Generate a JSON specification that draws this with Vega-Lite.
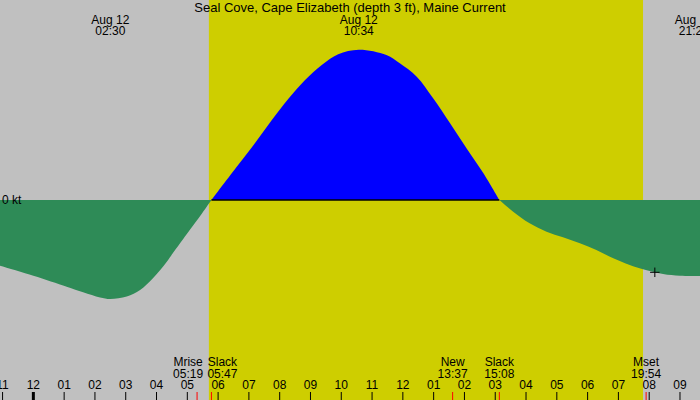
{
  "$schema": "https://vega.github.io/schema/vega-lite/v6.json",
  "description": "Seal Cove, Cape Elizabeth tidal current prediction for Aug 12.",
  "width": 700,
  "height": 400,
  "autosize": {"type": "none"},
  "padding": 0,
  "background": "#c0c0c0",
  "datasets": {
    "curve": [
      {"t": "2026-08-11T22:50", "v": -0.65, "seg": "e1", "dir": "ebb"},
      {"t": "2026-08-12T00:00", "v": -0.757, "seg": "e1", "dir": "ebb"},
      {"t": "2026-08-12T01:05", "v": -0.867, "seg": "e1", "dir": "ebb"},
      {"t": "2026-08-12T01:37", "v": -0.923, "seg": "e1", "dir": "ebb"},
      {"t": "2026-08-12T02:10", "v": -0.975, "seg": "e1", "dir": "ebb"},
      {"t": "2026-08-12T02:30", "v": -0.99, "seg": "e1", "dir": "ebb"},
      {"t": "2026-08-12T03:02", "v": -0.965, "seg": "e1", "dir": "ebb"},
      {"t": "2026-08-12T03:28", "v": -0.9, "seg": "e1", "dir": "ebb"},
      {"t": "2026-08-12T03:53", "v": -0.783, "seg": "e1", "dir": "ebb"},
      {"t": "2026-08-12T04:20", "v": -0.617, "seg": "e1", "dir": "ebb"},
      {"t": "2026-08-12T04:32", "v": -0.53, "seg": "e1", "dir": "ebb"},
      {"t": "2026-08-12T04:52", "v": -0.39, "seg": "e1", "dir": "ebb"},
      {"t": "2026-08-12T05:25", "v": -0.16, "seg": "e1", "dir": "ebb"},
      {"t": "2026-08-12T05:47", "v": 0, "seg": "e1", "dir": "ebb"},
      {"t": "2026-08-12T05:47", "v": 0, "seg": "f1", "dir": "flood"},
      {"t": "2026-08-12T06:39", "v": 0.35, "seg": "f1", "dir": "flood"},
      {"t": "2026-08-12T07:12", "v": 0.57, "seg": "f1", "dir": "flood"},
      {"t": "2026-08-12T07:44", "v": 0.795, "seg": "f1", "dir": "flood"},
      {"t": "2026-08-12T08:17", "v": 1.012, "seg": "f1", "dir": "flood"},
      {"t": "2026-08-12T08:49", "v": 1.197, "seg": "f1", "dir": "flood"},
      {"t": "2026-08-12T09:22", "v": 1.35, "seg": "f1", "dir": "flood"},
      {"t": "2026-08-12T09:54", "v": 1.457, "seg": "f1", "dir": "flood"},
      {"t": "2026-08-12T10:34", "v": 1.503, "seg": "f1", "dir": "flood"},
      {"t": "2026-08-12T11:28", "v": 1.45, "seg": "f1", "dir": "flood"},
      {"t": "2026-08-12T11:54", "v": 1.367, "seg": "f1", "dir": "flood"},
      {"t": "2026-08-12T12:27", "v": 1.233, "seg": "f1", "dir": "flood"},
      {"t": "2026-08-12T12:59", "v": 1.017, "seg": "f1", "dir": "flood"},
      {"t": "2026-08-12T13:32", "v": 0.767, "seg": "f1", "dir": "flood"},
      {"t": "2026-08-12T14:04", "v": 0.517, "seg": "f1", "dir": "flood"},
      {"t": "2026-08-12T14:37", "v": 0.267, "seg": "f1", "dir": "flood"},
      {"t": "2026-08-12T15:08", "v": 0, "seg": "f1", "dir": "flood"},
      {"t": "2026-08-12T15:08", "v": 0, "seg": "e2", "dir": "ebb"},
      {"t": "2026-08-12T15:35", "v": -0.117, "seg": "e2", "dir": "ebb"},
      {"t": "2026-08-12T16:07", "v": -0.233, "seg": "e2", "dir": "ebb"},
      {"t": "2026-08-12T16:40", "v": -0.317, "seg": "e2", "dir": "ebb"},
      {"t": "2026-08-12T17:12", "v": -0.373, "seg": "e2", "dir": "ebb"},
      {"t": "2026-08-12T17:45", "v": -0.433, "seg": "e2", "dir": "ebb"},
      {"t": "2026-08-12T18:17", "v": -0.5, "seg": "e2", "dir": "ebb"},
      {"t": "2026-08-12T18:50", "v": -0.583, "seg": "e2", "dir": "ebb"},
      {"t": "2026-08-12T19:22", "v": -0.65, "seg": "e2", "dir": "ebb"},
      {"t": "2026-08-12T19:48", "v": -0.693, "seg": "e2", "dir": "ebb"},
      {"t": "2026-08-12T20:27", "v": -0.74, "seg": "e2", "dir": "ebb"},
      {"t": "2026-08-12T21:00", "v": -0.757, "seg": "e2", "dir": "ebb"},
      {"t": "2026-08-12T21:39", "v": -0.76, "seg": "e2", "dir": "ebb"},
      {"t": "2026-08-12T21:50", "v": -0.76, "seg": "e2", "dir": "ebb"}
    ],
    "hours": [
      {"t": "2026-08-11T23:00", "label": "11"},
      {"t": "2026-08-12T00:00", "label": "12"},
      {"t": "2026-08-12T01:00", "label": "01"},
      {"t": "2026-08-12T02:00", "label": "02"},
      {"t": "2026-08-12T03:00", "label": "03"},
      {"t": "2026-08-12T04:00", "label": "04"},
      {"t": "2026-08-12T05:00", "label": "05"},
      {"t": "2026-08-12T06:00", "label": "06"},
      {"t": "2026-08-12T07:00", "label": "07"},
      {"t": "2026-08-12T08:00", "label": "08"},
      {"t": "2026-08-12T09:00", "label": "09"},
      {"t": "2026-08-12T10:00", "label": "10"},
      {"t": "2026-08-12T11:00", "label": "11"},
      {"t": "2026-08-12T12:00", "label": "12"},
      {"t": "2026-08-12T13:00", "label": "01"},
      {"t": "2026-08-12T14:00", "label": "02"},
      {"t": "2026-08-12T15:00", "label": "03"},
      {"t": "2026-08-12T16:00", "label": "04"},
      {"t": "2026-08-12T17:00", "label": "05"},
      {"t": "2026-08-12T18:00", "label": "06"},
      {"t": "2026-08-12T19:00", "label": "07"},
      {"t": "2026-08-12T20:00", "label": "08"},
      {"t": "2026-08-12T21:00", "label": "09"}
    ],
    "events": [
      {"t": "2026-08-12T05:19", "name": "Mrise", "label": "Mrise\n05:19"},
      {"t": "2026-08-12T05:47", "name": "Slack", "label": "Slack\n05:47"},
      {"t": "2026-08-12T13:37", "name": "New", "label": "New\n13:37"},
      {"t": "2026-08-12T15:08", "name": "Slack", "label": "Slack\n15:08"},
      {"t": "2026-08-12T19:54", "name": "Mset", "label": "Mset\n19:54"}
    ],
    "peaks": [
      {"t": "2026-08-12T02:30", "label": "Aug 12\n02:30"},
      {"t": "2026-08-12T10:34", "label": "Aug 12\n10:34"},
      {"t": "2026-08-12T21:27", "label": "Aug 12\n21:27"}
    ],
    "titles": [
      {"t": "2026-08-12T10:17", "label": "Seal Cove, Cape Elizabeth (depth 3 ft), Maine Current"}
    ],
    "day": [
      {"rise": "2026-08-12T05:42", "set": "2026-08-12T19:48"}
    ],
    "flood": [
      {"start": "2026-08-12T05:47", "end": "2026-08-12T15:08"}
    ],
    "now": [
      {"t": "2026-08-12T20:11", "v": -0.723}
    ]
  },
  "layer": [
    {
      "data": {"name": "day"},
      "mark": {"type": "rect", "color": "#cece00"},
      "encoding": {
        "x": {
          "field": "rise",
          "type": "temporal",
          "scale": {
            "domain": [
              {"year": 2026, "month": 8, "date": 11, "hours": 22, "minutes": 55},
              {"year": 2026, "month": 8, "date": 12, "hours": 21, "minutes": 39}
            ]
          },
          "axis": null
        },
        "x2": {"field": "set"}
      }
    },
    {
      "data": {"name": "curve"},
      "mark": {"type": "area", "interpolate": "catmull-rom", "clip": true},
      "encoding": {
        "x": {"field": "t", "type": "temporal", "axis": null},
        "y": {
          "field": "v",
          "type": "quantitative",
          "stack": null,
          "scale": {"domain": [-2, 2], "nice": false, "zero": false},
          "axis": null
        },
        "y2": {"datum": 0},
        "color": {
          "field": "dir",
          "type": "nominal",
          "scale": {"domain": ["ebb", "flood"], "range": ["#2e8b57", "#0000ff"]},
          "legend": null
        },
        "detail": {"field": "seg"}
      }
    },
    {
      "data": {"name": "flood"},
      "mark": {"type": "rule", "color": "black", "strokeWidth": 1.5},
      "encoding": {
        "x": {"field": "start", "type": "temporal", "axis": null},
        "x2": {"field": "end"},
        "y": {"datum": 0, "type": "quantitative", "axis": null}
      }
    },
    {
      "data": {"name": "hours"},
      "mark": {"type": "rule", "color": "black"},
      "encoding": {
        "x": {"field": "t", "type": "temporal", "axis": null},
        "y": {"datum": -1.92, "type": "quantitative", "axis": null},
        "y2": {"datum": -2},
        "strokeWidth": {"condition": {"test": "datum.label == '12' && hours(datum.t) == 0", "value": 3}, "value": 1}
      }
    },
    {
      "data": {"name": "hours"},
      "mark": {"type": "text", "font": "Liberation Sans", "fontSize": 12, "color": "black", "align": "center", "baseline": "middle"},
      "encoding": {
        "x": {"field": "t", "type": "temporal", "axis": null},
        "y": {"datum": -1.85, "type": "quantitative", "axis": null},
        "text": {"field": "label"}
      }
    },
    {
      "data": {"name": "events"},
      "mark": {"type": "rule", "color": "#ff0000", "strokeWidth": 1},
      "encoding": {
        "x": {"field": "t", "type": "temporal", "axis": null},
        "y": {"datum": -1.92, "type": "quantitative", "axis": null},
        "y2": {"datum": -2}
      }
    },
    {
      "data": {"name": "events"},
      "transform": [{"filter": "datum.label != 'Mrise\\n05:19' && datum.label != 'Slack\\n05:47'"}],
      "mark": {"type": "text", "font": "Liberation Sans", "fontSize": 12, "color": "black", "align": "center", "baseline": "middle", "lineBreak": "\n", "lineHeight": 11.7},
      "encoding": {
        "x": {"field": "t", "type": "temporal", "axis": null},
        "y": {"datum": -1.62, "type": "quantitative", "axis": null},
        "text": {"field": "label"}
      }
    },
    {
      "data": {"name": "events"},
      "transform": [{"filter": "datum.label == 'Mrise\\n05:19'"}],
      "mark": {"type": "text", "font": "Liberation Sans", "fontSize": 12, "color": "black", "align": "center", "baseline": "middle", "lineBreak": "\n", "lineHeight": 11.7, "dx": -9},
      "encoding": {
        "x": {"field": "t", "type": "temporal", "axis": null},
        "y": {"datum": -1.62, "type": "quantitative", "axis": null},
        "text": {"field": "label"}
      }
    },
    {
      "data": {"name": "events"},
      "transform": [{"filter": "datum.label == 'Slack\\n05:47'"}],
      "mark": {"type": "text", "font": "Liberation Sans", "fontSize": 12, "color": "black", "align": "center", "baseline": "middle", "lineBreak": "\n", "lineHeight": 11.7, "dx": 11},
      "encoding": {
        "x": {"field": "t", "type": "temporal", "axis": null},
        "y": {"datum": -1.62, "type": "quantitative", "axis": null},
        "text": {"field": "label"}
      }
    },
    {
      "data": {"name": "peaks"},
      "mark": {"type": "text", "font": "Liberation Sans", "fontSize": 12, "color": "black", "align": "center", "baseline": "middle", "lineBreak": "\n", "lineHeight": 11.3},
      "encoding": {
        "x": {"field": "t", "type": "temporal", "axis": null},
        "y": {"datum": 1.8, "type": "quantitative", "axis": null},
        "text": {"field": "label"}
      }
    },
    {
      "data": {"name": "titles"},
      "mark": {"type": "text", "font": "Liberation Sans", "fontSize": 13, "color": "black", "align": "center", "baseline": "middle"},
      "encoding": {
        "x": {"field": "t", "type": "temporal", "axis": null},
        "y": {"datum": 1.92, "type": "quantitative", "axis": null},
        "text": {"field": "label"}
      }
    },
    {
      "data": {"values": [{"label": "0 kt"}]},
      "mark": {"type": "text", "font": "Liberation Sans", "fontSize": 12, "color": "black", "align": "left", "baseline": "middle", "dx": 2},
      "encoding": {
        "x": {"datum": {"year": 2026, "month": 8, "date": 11, "hours": 22, "minutes": 55}, "type": "temporal", "axis": null},
        "y": {"datum": 0, "type": "quantitative", "axis": null},
        "text": {"field": "label"}
      }
    },
    {
      "data": {"name": "now"},
      "mark": {"type": "point", "shape": "M-1,0H1M0,-1V1", "filled": false, "stroke": "black", "strokeWidth": 1, "size": 90, "opacity": 1},
      "encoding": {
        "x": {"field": "t", "type": "temporal", "axis": null},
        "y": {"field": "v", "type": "quantitative", "axis": null}
      }
    }
  ],
  "config": {
    "view": {"stroke": null}
  }
}
